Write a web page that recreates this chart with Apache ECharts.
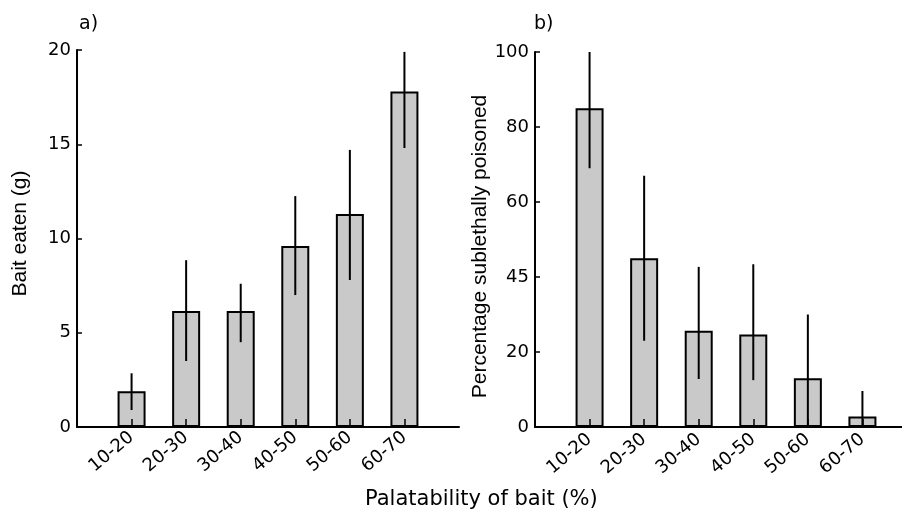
<!DOCTYPE html>
<html>
<head>
<meta charset="utf-8">
<script src="https://cdn.jsdelivr.net/npm/echarts@6/dist/echarts.min.js"></script>
<style>
  html, body { margin: 0; padding: 0; background: #fff; }
  #chart { width: 902px; height: 513px; }
</style>
</head>
<body>
<div id="chart"></div>
<script>
// palatability classes (%)
const categories = ['10-20', '20-30', '30-40', '40-50', '50-60', '60-70']

// a) bait eaten (g), with error bar ends
const baitEaten = [1.9, 6.15, 6.15, 9.6, 11.3, 17.8]
const baitLow = [0.9, 3.5, 4.5, 7.0, 7.8, 14.8]
const baitHigh = [2.85, 8.85, 7.6, 12.25, 14.7, 19.9]

// b) percentage sublethally poisoned, with error bar ends
const poisoned = [85, 45, 25.7, 24.7, 13, 2.8]
const poisonedLow = [69, 23, 12.8, 12.5, 0, 0]
const poisonedHigh = [100, 67, 42.7, 43.4, 30, 9.6]

// tick labels as printed (the 40 tick reads "45" in the figure)
const baitTicks = ['0', '5', '10', '15', '20']
const percentTicks = ['0', '20', '45', '60', '80', '100']

const chart = echarts.init(document.getElementById('chart'))

// empty slot on each side so the bars sit one step in from the y axis
const slots = ['', ...categories, '']
const padded = arr => ['-', ...arr, '-']
const errData = (lo, hi) => categories.map((c, i) => [i + 1, lo[i], hi[i]])

const tickFont = 'DejaVu Sans'
const nameFont = 'Liberation Sans'

function errorBar(params, api) {
  const x = api.value(0)
  const p1 = api.coord([x, api.value(1)])
  const p2 = api.coord([x, api.value(2)])
  return {
    type: 'line',
    shape: { x1: p1[0], y1: p1[1], x2: p2[0], y2: p2[1] },
    style: { stroke: '#000', lineWidth: 2 }
  }
}

function xAxisFor(gridIndex, margin) {
  return {
    type: 'category',
    gridIndex: gridIndex,
    data: slots,
    boundaryGap: false,
    z: 5,
    axisLine: { show: true, lineStyle: { color: '#000', width: 2 } },
    axisTick: {
      show: true,
      inside: true,
      length: 8,
      interval: (i) => i > 0 && i < slots.length - 1,
      lineStyle: { color: '#000', width: 1.5 }
    },
    axisLabel: {
      interval: 0,
      rotate: 40,
      margin: margin,
      color: '#000',
      fontFamily: tickFont,
      fontSize: 18
    },
    splitLine: { show: false }
  }
}

function yAxisFor(gridIndex, max, interval, labels, name, nameGap, namePadding) {
  return {
    type: 'value',
    gridIndex: gridIndex,
    min: 0,
    max: max,
    interval: interval,
    name: name,
    nameLocation: 'middle',
    nameGap: nameGap,
    nameTextStyle: {
      color: '#000',
      fontFamily: nameFont,
      fontSize: 21,
      padding: namePadding
    },
    axisLine: { show: true, lineStyle: { color: '#000', width: 2 } },
    axisTick: { show: true, inside: true, length: 5, lineStyle: { color: '#000', width: 1.5 } },
    axisLabel: {
      margin: 6,
      color: '#000',
      fontFamily: tickFont,
      fontSize: 18,
      formatter: (v) => labels[Math.round(v / interval)]
    },
    splitLine: { show: false }
  }
}

const barStyle = { color: '#c9c9c9', borderColor: '#000', borderWidth: 2 }

chart.setOption({
  backgroundColor: '#fff',
  animation: false,
  title: [
    {
      text: 'a)', left: 79, top: 15, padding: 0,
      textStyle: { fontFamily: tickFont, fontSize: 19, fontWeight: 'normal', color: '#000' }
    },
    {
      text: 'b)', left: 534, top: 15, padding: 0,
      textStyle: { fontFamily: tickFont, fontSize: 19, fontWeight: 'normal', color: '#000' }
    },
    {
      text: 'Palatability of bait (%)', left: 365, top: 489, padding: 0,
      textStyle: { fontFamily: tickFont, fontSize: 21, fontWeight: 'normal', color: '#000' }
    }
  ],
  grid: [
    { left: 77, top: 50, width: 382, height: 377, containLabel: false, outerBoundsMode: 'none' },
    { left: 535, top: 52, width: 382, height: 375, containLabel: false, outerBoundsMode: 'none' }
  ],
  xAxis: [xAxisFor(0, 8), xAxisFor(1, 10)],
  yAxis: [
    yAxisFor(0, 20, 5, baitTicks, 'Bait eaten (g)', 46, [0, 0, 0, 10]),
    yAxisFor(1, 100, 20, percentTicks, 'Percentage sublethally poisoned', 44, [0, 14, 0, 0])
  ],
  series: [
    {
      type: 'bar',
      xAxisIndex: 0,
      yAxisIndex: 0,
      barWidth: 28,
      itemStyle: barStyle,
      data: padded(baitEaten)
    },
    {
      type: 'custom',
      xAxisIndex: 0,
      yAxisIndex: 0,
      z: 4,
      renderItem: errorBar,
      encode: { x: 0, y: [1, 2] },
      data: errData(baitLow, baitHigh)
    },
    {
      type: 'bar',
      xAxisIndex: 1,
      yAxisIndex: 1,
      barWidth: 28,
      itemStyle: barStyle,
      data: padded(poisoned)
    },
    {
      type: 'custom',
      xAxisIndex: 1,
      yAxisIndex: 1,
      z: 4,
      renderItem: errorBar,
      encode: { x: 0, y: [1, 2] },
      data: errData(poisonedLow, poisonedHigh)
    }
  ]
})
</script>
</body>
</html>
